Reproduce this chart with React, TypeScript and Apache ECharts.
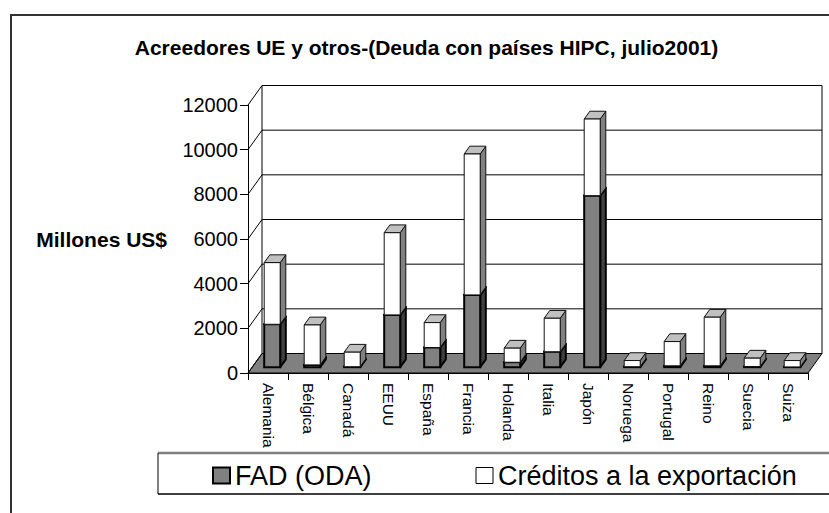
import React, { useEffect, useRef } from "react";
import * as echarts from "echarts";

const categories = ["Alemania", "Bélgica", "Canadá", "EEUU", "España", "Francia", "Holanda", "Italia", "Japón", "Noruega", "Portugal", "Reino", "Suecia", "Suiza"];
const fadValues = [1920, 100, 20, 2340, 880, 3235, 220, 690, 7680, 20, 60, 60, 30, 10];
const exportValues = [2760, 1790, 650, 3680, 1115, 6310, 630, 1500, 3430, 275, 1086, 2177, 373, 285];
const yTicks = [0, 2000, 4000, 6000, 8000, 10000, 12000];
const seriesNames = ["FAD (ODA)", "Créditos a la exportación"];
const titleText = "Acreedores UE y otros-(Deuda con países HIPC, julio2001)";
const yAxisTitle = "Millones US$";

const FONT = "'Liberation Sans', Arial, Helvetica, sans-serif";
const DX = 14;
const DY = -19.5;
const D0 = 0.3;
const BAR_D = 0.4;
const BAR_W = 0.4;
const Y_MAX = 12000;

const wallItem = (params: any, api: any) => {
  const cs = params.coordSys;
  const v = api.value(1);
  const y = api.coord([0, v])[1];
  const x0 = cs.x;
  const x1 = cs.x + cs.width;
  const children: any[] = [];
  if (params.dataIndex === 0) {
    const yTop = api.coord([0, Y_MAX])[1];
    children.push({
      type: "rect",
      shape: { x: x0 + DX, y: yTop + DY, width: cs.width, height: y - yTop },
      style: { fill: "#ffffff", stroke: "#000", lineWidth: 1 },
    });
    children.push({
      type: "polygon",
      shape: { points: [[x0, y], [x1, y], [x1 + DX, y + DY], [x0 + DX, y + DY]] },
      style: { fill: "#808080", stroke: "#000", lineWidth: 1 },
    });
  } else {
    children.push({
      type: "line",
      shape: { x1: x0 + DX, y1: y + DY, x2: x1 + DX, y2: y + DY },
      style: { stroke: "#000", lineWidth: 1 },
    });
  }
  children.push({
    type: "line",
    shape: { x1: x0, y1: y, x2: x0 + DX, y2: y + DY },
    style: { stroke: "#000", lineWidth: 1 },
  });
  return { type: "group", children };
};

const makeBar = (front: string, side: string, top: string, stroke: string, lw: number) => (params: any, api: any) => {
  const i = api.value(0);
  const lo = api.value(1);
  const hi = api.value(2);
  const pLo = api.coord([i, lo]);
  const pHi = api.coord([i, hi]);
  const bw = api.size([1, 0])[0] * BAR_W;
  const xl = pLo[0] - bw / 2 + DX * D0;
  const xr = xl + bw;
  const yb = pLo[1] + DY * D0;
  const yt = pHi[1] + DY * D0;
  const ddx = DX * BAR_D;
  const ddy = DY * BAR_D;
  return {
    type: "group",
    children: [
      {
        type: "polygon",
        shape: { points: [[xr, yb], [xr + ddx, yb + ddy], [xr + ddx, yt + ddy], [xr, yt]] },
        style: { fill: side, stroke, lineWidth: lw, lineJoin: "round" },
      },
      {
        type: "polygon",
        shape: { points: [[xl, yt], [xr, yt], [xr + ddx, yt + ddy], [xl + ddx, yt + ddy]] },
        style: { fill: top, stroke, lineWidth: lw, lineJoin: "round" },
      },
      {
        type: "rect",
        shape: { x: xl, y: yt, width: bw, height: yb - yt },
        style: { fill: front, stroke, lineWidth: lw },
      },
    ],
  };
};

export default function App() {
  const ref = useRef<HTMLDivElement>(null);
  useEffect(() => {
    if (!ref.current) return;
    const chart = echarts.init(ref.current, undefined, { renderer: "svg" });
    const option: any = {
      animation: false,
      backgroundColor: "#ffffff",
      textStyle: { fontFamily: FONT },
      grid: { left: 248, right: 21, top: 105, bottom: 140 },
      xAxis: {
        type: "category",
        data: categories,
        axisLine: { show: true, lineStyle: { color: "#000", width: 1 } },
        axisTick: { show: true, length: 7, alignWithLabel: false, interval: 0, lineStyle: { color: "#000" } },
        axisLabel: { rotate: -90, interval: 0, margin: 10, fontSize: 15.5, color: "#000", fontFamily: FONT },
        splitLine: { show: false },
      },
      yAxis: {
        type: "value",
        min: 0,
        max: Y_MAX,
        interval: 2000,
        axisLine: { show: true, lineStyle: { color: "#000", width: 1 } },
        axisTick: { show: true, length: 8, lineStyle: { color: "#000" } },
        axisLabel: { fontSize: 20, color: "#000", margin: 10, fontFamily: FONT, formatter: (v: number) => String(v) },
        splitLine: { show: false },
      },
      legend: {
        left: 212,
        top: 461,
        padding: 0,
        itemWidth: 17,
        itemHeight: 16,
        itemGap: 104,
        selectedMode: false,
        textStyle: { fontSize: 27, color: "#000", fontFamily: FONT, lineHeight: 29 },
        data: [
          { name: seriesNames[0], icon: "rect", itemStyle: { color: "#808080", borderColor: "#000", borderWidth: 2 } },
          { name: seriesNames[1], icon: "rect", itemStyle: { color: "#ffffff", borderColor: "#000", borderWidth: 1 } },
        ],
      },
      graphic: [
        { type: "rect", z: 0, shape: { x: 11, y: 15, width: 830, height: 510 }, style: { fill: "none", stroke: "#333", lineWidth: 2 } },
        { type: "rect", z: 1, shape: { x: 158, y: 453, width: 700, height: 41 }, style: { fill: "#fff", stroke: "none" } },
        { type: "line", z: 2, shape: { x1: 158, y1: 453, x2: 829, y2: 453 }, style: { stroke: "#808080", lineWidth: 2.5 } },
        { type: "line", z: 2, shape: { x1: 158, y1: 453, x2: 158, y2: 494 }, style: { stroke: "#000", lineWidth: 1 } },
        { type: "line", z: 2, shape: { x1: 158, y1: 494, x2: 829, y2: 494 }, style: { stroke: "#000", lineWidth: 1.5 } },
        {
          type: "text", z: 3, x: 426.5, y: 47,
          style: { text: titleText, font: `bold 21px ${FONT}`, fill: "#000", textAlign: "center", textVerticalAlign: "middle" },
        },
        {
          type: "text", z: 3, x: 167, y: 239,
          style: { text: yAxisTitle, font: `bold 21px ${FONT}`, fill: "#000", textAlign: "right", textVerticalAlign: "middle" },
        },
      ],
      series: [
        {
          type: "custom",
          name: "walls",
          z: 1,
          renderItem: wallItem,
          data: yTicks.map((v) => [0, v]),
          encode: { x: 0, y: 1 },
          silent: true,
        },
        {
          type: "custom",
          name: seriesNames[0],
          z: 2,
          renderItem: makeBar("#808080", "#404040", "#a0a0a0", "#000", 2),
          data: categories.map((_, i) => [i, 0, fadValues[i]]),
          encode: { x: 0, y: [1, 2] },
          itemStyle: { color: "#808080" },
        },
        {
          type: "custom",
          name: seriesNames[1],
          z: 3,
          renderItem: makeBar("#ffffff", "#808080", "#c0c0c0", "#111", 1),
          data: categories.map((_, i) => [i, fadValues[i], fadValues[i] + exportValues[i]]),
          encode: { x: 0, y: [1, 2] },
          itemStyle: { color: "#ffffff" },
        },
      ],
    };
    chart.setOption(option);
    return () => chart.dispose();
  }, []);
  return <div ref={ref} style={{ position: "fixed", left: 0, top: 0, width: 829, height: 513 }} />;
}
